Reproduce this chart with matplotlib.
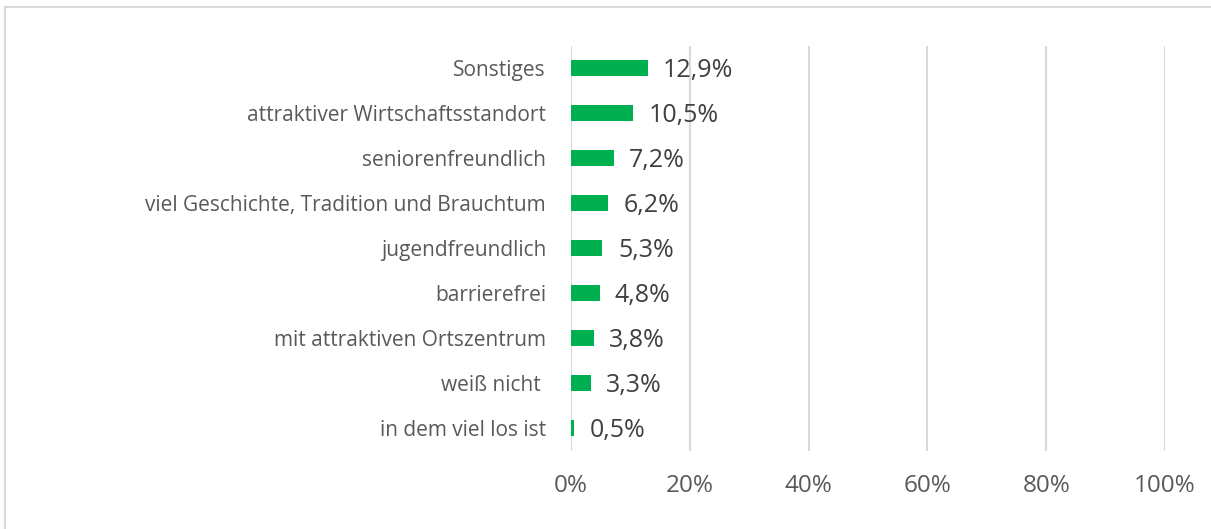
import matplotlib.pyplot as plt
from matplotlib.lines import Line2D

kategorien = ["Sonstiges", "attraktiver Wirtschaftsstandort", "seniorenfreundlich",
              "viel Geschichte, Tradition und Brauchtum", "jugendfreundlich",
              "barrierefrei", "mit attraktiven Ortszentrum", "weiß nicht ",
              "in dem viel los ist"]
werte = [12.9, 10.5, 7.2, 6.2, 5.3, 4.8, 3.8, 3.3, 0.5]
x_ticks = [0, 20, 40, 60, 80, 100]

plt.rcParams['font.family'] = ['Open Sans', 'DejaVu Sans']

W, H = 1211, 529
fig = plt.figure(figsize=(W / 100, H / 100), dpi=100)
# Achsen: x 571..1165 px, y 45.5..450.5 px
ax = fig.add_axes([571 / W, 1 - 450.5 / H, (1165 - 571) / W, 405 / H])

y = list(range(len(kategorien)))
ax.barh(y, werte, height=0.36, color='#00B050', zorder=3)
ax.set_ylim(len(kategorien) - 0.5, -0.5)
ax.set_xlim(0, 100)

for yi, w in zip(y, werte):
    ax.text(w + 2.6, yi + 0.05, f"{w:.1f}%".replace('.', ','), va='center', ha='left',
            fontsize=18, color='#404040')

ax.set_yticks(y)
ax.set_yticklabels(kategorien, fontsize=15, color='#595959')
ax.set_xticks(x_ticks)
ax.set_xticklabels([f"{t}%" for t in x_ticks], fontsize=17.5, color='#595959')
ax.tick_params(axis='y', length=0, pad=18)
ax.tick_params(axis='x', length=0, pad=17)
ax.grid(axis='x', color='#D9D9D9', linewidth=1.5, zorder=0)
for s in ax.spines.values():
    s.set_visible(False)

# Rahmen oben und links
fig.add_artist(Line2D([5 / W, 1], [1 - 7 / H, 1 - 7 / H], transform=fig.transFigure,
                      color='#D9D9D9', linewidth=1.5))
fig.add_artist(Line2D([5 / W, 5 / W], [0, 1 - 7 / H], transform=fig.transFigure,
                      color='#D9D9D9', linewidth=1.5))

fig.savefig('out.png', dpi=100)
